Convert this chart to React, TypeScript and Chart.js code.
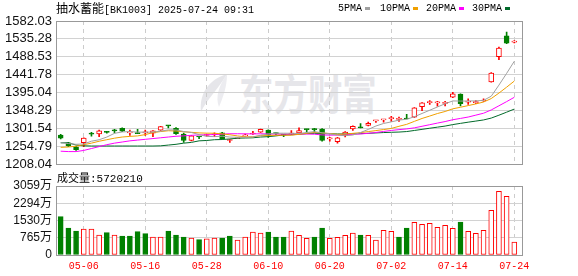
import React, { useEffect, useRef } from "react";
import { Chart, registerables } from "chart.js";

Chart.register(...registerables);

// ---------- DATA ----------
const dates = [
  "04-28", "04-29", "04-30", "05-06", "05-07", "05-08", "05-09", "05-12", "05-13", "05-14",
  "05-15", "05-16", "05-19", "05-20", "05-21", "05-22", "05-23", "05-26", "05-27", "05-28",
  "05-29", "05-30", "06-03", "06-04", "06-05", "06-06", "06-09", "06-10", "06-11", "06-12",
  "06-13", "06-16", "06-17", "06-18", "06-19", "06-20", "06-23", "06-24", "06-25", "06-26",
  "06-27", "06-30", "07-01", "07-02", "07-03", "07-04", "07-07", "07-08", "07-09", "07-10",
  "07-11", "07-14", "07-15", "07-16", "07-17", "07-18", "07-21", "07-22", "07-23", "07-24",
];

const opens = [
  1284, 1264, 1253, 1264, 1287, 1287, 1293, 1296, 1302, 1290,
  1289, 1290, 1289, 1297, 1309, 1302, 1287, 1270, 1280, 1283,
  1285, 1290, 1270, 1275, 1282, 1287, 1292, 1297, 1289, 1285,
  1287, 1290, 1299, 1299, 1300, 1274, 1267, 1284, 1300, 1304,
  1309, 1321, 1324, 1327, 1325, 1327, 1331, 1358, 1369, 1368,
  1367, 1383, 1391, 1370, 1369, 1373, 1423, 1489, 1543, 1527,
];
const highs = [
  1286, 1265, 1255, 1277, 1291, 1297, 1294, 1299, 1303, 1297,
  1299, 1297, 1296, 1307, 1309.5, 1304, 1289, 1283, 1280.5, 1286,
  1290, 1291, 1273, 1277, 1287, 1294, 1299.5, 1298, 1290, 1285.5,
  1296, 1303, 1299.5, 1302, 1301, 1278, 1278, 1293, 1308, 1314,
  1318, 1322.5, 1325.5, 1333, 1331, 1338, 1356, 1369, 1374, 1372.5,
  1372, 1396, 1392, 1379, 1374, 1379, 1447, 1514, 1553, 1531,
];
const lows = [
  1274, 1254, 1244, 1254, 1281, 1280, 1289, 1290, 1293, 1283,
  1288, 1283, 1280, 1296, 1303, 1286, 1265, 1269, 1275, 1281,
  1280, 1274, 1265, 1275, 1281, 1286, 1291, 1278, 1285, 1280,
  1285, 1289, 1292, 1292, 1268, 1268, 1263, 1279, 1296, 1303,
  1308, 1317, 1318, 1320, 1320, 1326, 1330, 1348, 1364, 1359.5,
  1360, 1382, 1360, 1364, 1366, 1372, 1422, 1481, 1523, 1525,
];
const closes = [
  1276, 1256, 1246, 1276, 1286.5, 1295, 1291, 1295, 1294, 1291,
  1288, 1291, 1295, 1306, 1308, 1288, 1270, 1282, 1279, 1284,
  1285.5, 1275, 1271, 1276, 1284, 1289, 1299, 1285, 1288, 1284,
  1288, 1296, 1298.5, 1298.5, 1270, 1275, 1277, 1292, 1307, 1303,
  1315, 1322, 1325, 1328, 1326, 1326, 1355, 1368, 1370, 1368.5,
  1368, 1392, 1366, 1371, 1370, 1375, 1446, 1511, 1524, 1529,
];

const ma5 = [
  1264, 1262, 1260, 1261, 1268.1, 1271.9, 1278.9, 1288.7, 1292.3, 1293.2,
  1291.8, 1291.8, 1291.8, 1294.2, 1297.6, 1297.6, 1293.4, 1290.8, 1285.4, 1280.6,
  1280.1, 1281.1, 1278.9, 1278.3, 1278.3, 1279, 1283.8, 1286.6, 1289, 1289,
  1288.8, 1288.2, 1290.9, 1293, 1290.2, 1287.6, 1283.8, 1282.5, 1284.2, 1290.8,
  1298.8, 1307.8, 1314.4, 1318.6, 1323.2, 1325.4, 1332, 1340.6, 1349, 1357.5,
  1365.9, 1373.3, 1372.9, 1373.1, 1373.4, 1374.8, 1385.6, 1414.6, 1445.2, 1477,
];
const ma10 = [
  1252, 1253, 1255, 1259, 1263, 1268, 1272, 1276, 1279, 1280.7,
  1281.9, 1285.4, 1290.3, 1293.3, 1295.4, 1294.7, 1292.6, 1291.3, 1289.8, 1289.1,
  1288.9, 1287.3, 1284.9, 1281.9, 1279.5, 1279.6, 1282.5, 1282.8, 1283.7, 1283.7,
  1283.9, 1286, 1288.8, 1291, 1289.6, 1288.2, 1286, 1286.7, 1288.6, 1290.5,
  1293.2, 1295.8, 1298.5, 1301.4, 1307, 1312.1, 1319.9, 1327.5, 1333.8, 1340.4,
  1345.7, 1352.7, 1356.8, 1361.1, 1365.5, 1370.4, 1379.5, 1393.8, 1409.2, 1425.2,
];
const ma20 = [
  1242, 1241, 1241, 1244, 1249, 1254, 1259, 1263, 1266, 1269,
  1271, 1273, 1275, 1277, 1279, 1281, 1282, 1283.5, 1284.4, 1284.9,
  1285.4, 1286.3, 1287.6, 1287.6, 1287.4, 1287.1, 1287.5, 1287, 1286.7, 1286.4,
  1286.4, 1286.6, 1286.8, 1286.4, 1284.5, 1283.9, 1284.2, 1284.7, 1286.1, 1287.1,
  1288.6, 1290.9, 1293.6, 1296.2, 1298.3, 1300.2, 1303, 1307.1, 1311.2, 1315.4,
  1319.4, 1324.2, 1327.6, 1331.2, 1336.2, 1341.2, 1349.7, 1360.6, 1371.5, 1382.8,
];
const ma30 = [
  1264, 1264, 1258, 1256, 1255.5, 1255.5, 1255.5, 1255.5, 1255.5, 1255.5,
  1255.5, 1255.5, 1255.5, 1256, 1258, 1260, 1263, 1265, 1269, 1270,
  1272, 1272.5, 1274, 1276, 1276.5, 1277, 1279, 1280, 1282, 1284.5,
  1284.9, 1286.2, 1288, 1288.7, 1288.2, 1287.5, 1287, 1286.9, 1287.4, 1287.8,
  1288.7, 1289.7, 1290.7, 1291.4, 1292, 1293.3, 1296.1, 1299, 1302, 1304.8,
  1307.6, 1311.5, 1314.7, 1317.8, 1320.7, 1323.6, 1328.5, 1336, 1343.9, 1352,
];

// volume in 万
const volumes = [
  1698, 1197, 1064, 1153, 1153, 887, 990, 887, 842, 842,
  1034, 946, 798, 798, 1064, 887, 798, 754, 680, 716,
  754, 754, 842, 665, 798, 1020, 975, 1020, 798, 798,
  1064, 872, 739, 798, 1197, 739, 783, 872, 975, 887,
  872, 665, 1093, 1049, 798, 1197, 1448, 1360, 1404, 1226,
  1315, 1182, 1463, 1049, 960, 1093, 1980, 2823, 2601, 572,
];
const volumeUp = [
  0, 0, 0, 1, 1, 1, 0, 1, 0, 0,
  0, 0, 1, 1, 0, 0, 0, 1, 0, 1,
  1, 0, 0, 1, 1, 1, 1, 0, 0, 0,
  1, 1, 1, 0, 0, 1, 1, 1, 1, 0,
  1, 1, 1, 1, 0, 0, 1, 1, 1, 1,
  1, 1, 0, 1, 1, 1, 1, 1, 1, 1,
];

const priceTicks = [1208.04, 1254.79, 1301.54, 1348.29, 1395.04, 1441.78, 1488.53, 1535.28, 1582.03];
const priceTickLabels = ["1208.04", "1254.79", "1301.54", "1348.29", "1395.04", "1441.78", "1488.53", "1535.28", "1582.03"];
const volTicks = [0, 765, 1530, 2294, 3059];
const volTickLabels = ["0", "765万", "1530万", "2294万", "3059万"];
const xTickIndex = [3, 11, 19, 27, 35, 43, 51, 59];
const xTickLabels = ["05-06", "05-16", "05-28", "06-10", "06-20", "07-02", "07-14", "07-24"];

const maNames = ["5PMA", "10PMA", "20PMA", "30PMA"];
const maColors = ["#a0a0a0", "#f0a000", "#ff00ff", "#006a2a"];

// ---------- STYLE ----------
const RED = "#ff0000";
const GREEN = "#008000";
const MONO = "'Liberation Mono', 'DejaVu Sans Mono', monospace";
const CJK = "'Noto Sans CJK SC', sans-serif";
const SANS = "'Liberation Sans', 'Noto Sans CJK SC', sans-serif";
const X_MIN = -0.61;
const X_MAX = 60;

const framePlugin = {
  id: "frame",
  afterDraw(chart: any) {
    const { ctx, chartArea: a } = chart;
    ctx.save();
    ctx.strokeStyle = "#999999";
    ctx.lineWidth = 1;
    ctx.strokeRect(
      Math.round(a.left) + 0.5,
      Math.round(a.top) + 0.5,
      Math.round(a.right - a.left),
      Math.round(a.bottom - a.top)
    );
    ctx.restore();
  },
};

function xScale(showLabels: boolean, height: number) {
  return {
    type: "linear" as const,
    min: X_MIN,
    max: X_MAX,
    bounds: "data" as const,
    offset: false,
    afterBuildTicks: (s: any) => {
      s.ticks = xTickIndex.map((v) => ({ value: v }));
    },
    afterFit: (s: any) => {
      s.height = height;
    },
    ticks: {
      display: showLabels,
      autoSkip: false,
      maxRotation: 0,
      padding: 5,
      color: RED,
      font: { family: MONO, size: 10 },
      callback: (_v: any, i: number) => xTickLabels[i],
    },
    grid: { color: "#cccccc", drawTicks: false, offset: false },
    border: { display: false, dash: [4, 4] },
  };
}

function yScale(ticks: number[], labels: string[], fontSize: number, min: number) {
  return {
    type: "linear" as const,
    min,
    max: ticks[ticks.length - 1],
    bounds: "data" as const,
    afterBuildTicks: (s: any) => {
      s.ticks = ticks.map((v) => ({ value: v }));
    },
    afterFit: (s: any) => {
      s.width = 56;
    },
    ticks: {
      autoSkip: false,
      padding: 4,
      color: "#111111",
      font: { family: SANS, size: fontSize },
      callback: (_v: any, i: number) => labels[i],
    },
    grid: { color: "#d2d2d2", drawTicks: false },
    border: { display: false },
  };
}

export default function App() {
  const mainRef = useRef<HTMLCanvasElement>(null);
  const volRef = useRef<HTMLCanvasElement>(null);

  useEffect(() => {
    const candleColor = opens.map((o, i) => (closes[i] >= o ? RED : GREEN));
    const bodyFill = opens.map((o, i) => (closes[i] >= o ? "#ffffff" : GREEN));

    const maSets = [ma5, ma10, ma20, ma30].map((arr, k) => ({
      type: "line" as const,
      label: maNames[k],
      data: arr.map((v, i) => ({ x: i, y: v })),
      borderColor: maColors[k],
      borderWidth: 1,
      pointRadius: 0,
      fill: false,
      tension: 0,
      order: 1,
    }));

    const main = new Chart(mainRef.current as HTMLCanvasElement, {
      type: "bar",
      data: {
        datasets: [
          ...maSets,
          {
            type: "bar",
            label: "body",
            data: opens.map((o, i) => ({ x: i, y: [o, closes[i]] })) as any,
            backgroundColor: bodyFill,
            borderColor: candleColor,
            borderWidth: 1,
            borderSkipped: false,
            barThickness: 5,
            minBarLength: 1,
            grouped: false,
            order: 2,
          },
          {
            type: "bar",
            label: "wick",
            data: lows.map((l, i) => ({ x: i, y: [l, highs[i]] })) as any,
            backgroundColor: candleColor,
            borderWidth: 0,
            barThickness: 1,
            grouped: false,
            order: 3,
          },
        ] as any,
      },
      options: {
        animation: false,
        responsive: false,
        devicePixelRatio: 1,
        layout: { padding: { top: 21, right: 56, bottom: 11, left: 0 } },
        plugins: { legend: { display: false }, tooltip: { enabled: false } },
        scales: {
          x: xScale(false, 0) as any,
          y: yScale(priceTicks, priceTickLabels, 13, priceTicks[0]) as any,
        },
      },
      plugins: [framePlugin],
    });

    const vol = new Chart(volRef.current as HTMLCanvasElement, {
      type: "bar",
      data: {
        datasets: [
          {
            label: "成交量",
            data: volumes.map((v, i) => ({ x: i, y: v })) as any,
            backgroundColor: volumeUp.map((u) => (u ? "#ffffff" : GREEN)),
            borderColor: volumeUp.map((u) => (u ? RED : GREEN)),
            borderWidth: 1,
            borderSkipped: false,
            barThickness: 5,
            grouped: false,
          },
        ] as any,
      },
      options: {
        animation: false,
        responsive: false,
        devicePixelRatio: 1,
        layout: { padding: { top: 16, right: 56, bottom: 0, left: 0 } },
        plugins: { legend: { display: false }, tooltip: { enabled: false } },
        scales: {
          x: xScale(true, 21) as any,
          y: yScale(volTicks, volTickLabels, 12, 0) as any,
        },
      },
      plugins: [framePlugin],
    });

    return () => {
      main.destroy();
      vol.destroy();
    };
  }, []);

  const legendText = [338, 380, 426, 472];
  const legendBox = [365, 413, 459, 505];

  return (
    <div
      style={{
        position: "fixed",
        left: 0,
        top: 0,
        width: 578,
        height: 276,
        overflow: "hidden",
        background: "#ffffff",
      }}
    >
      {/* watermark */}
      <svg
        width={34}
        height={40}
        viewBox="0 0 34 40"
        style={{ position: "absolute", left: 197, top: 73 }}
      >
        <path d="M30 1 C14 6 2 18 4 39 C10 26 20 18 30 1 Z" fill="#e6e6ea" />
        <path d="M30 1 C22 12 18 24 22 34 C26 24 30 14 30 1 Z" fill="#ececf0" />
      </svg>
      <div
        style={{
          position: "absolute",
          left: 239,
          top: 70,
          font: `bold 42px ${CJK}`,
          lineHeight: "44px",
          color: "#e6e6ea",
          whiteSpace: "nowrap",
          transform: "scaleX(0.82)",
          transformOrigin: "left top",
        }}
      >
        东方财富
      </div>

      <canvas
        ref={mainRef}
        width={578}
        height={176}
        style={{ position: "absolute", left: 0, top: 0 }}
      />
      <canvas
        ref={volRef}
        width={578}
        height={106}
        style={{ position: "absolute", left: 0, top: 170 }}
      />

      {/* title */}
      <div
        style={{
          position: "absolute",
          left: 56,
          top: 0,
          height: 15,
          lineHeight: "15px",
          whiteSpace: "nowrap",
          color: "#000",
        }}
      >
        <span style={{ font: `12px ${CJK}`, lineHeight: "15px" }}>抽水蓄能</span>
        <span style={{ font: `10px ${MONO}`, lineHeight: "15px" }}>[BK1003] 2025-07-24 09:31</span>
      </div>

      {/* legend */}
      {maNames.map((n, k) => (
        <React.Fragment key={n}>
          <div
            style={{
              position: "absolute",
              left: legendText[k],
              top: 1,
              font: `10px ${MONO}`,
              lineHeight: "15px",
              color: "#000",
              whiteSpace: "nowrap",
            }}
          >
            {n}
          </div>
          <div
            style={{
              position: "absolute",
              left: legendBox[k],
              top: 7,
              width: 5,
              height: 3,
              background: maColors[k],
            }}
          />
        </React.Fragment>
      ))}

      {/* volume label */}
      <div
        style={{
          position: "absolute",
          left: 57,
          top: 170,
          height: 14,
          lineHeight: "14px",
          whiteSpace: "nowrap",
          color: "#000",
        }}
      >
        <span style={{ font: `11px ${CJK}`, lineHeight: "14px" }}>成交量</span>
        <span style={{ font: `11px ${MONO}`, lineHeight: "14px" }}>:5720210</span>
      </div>
    </div>
  );
}
